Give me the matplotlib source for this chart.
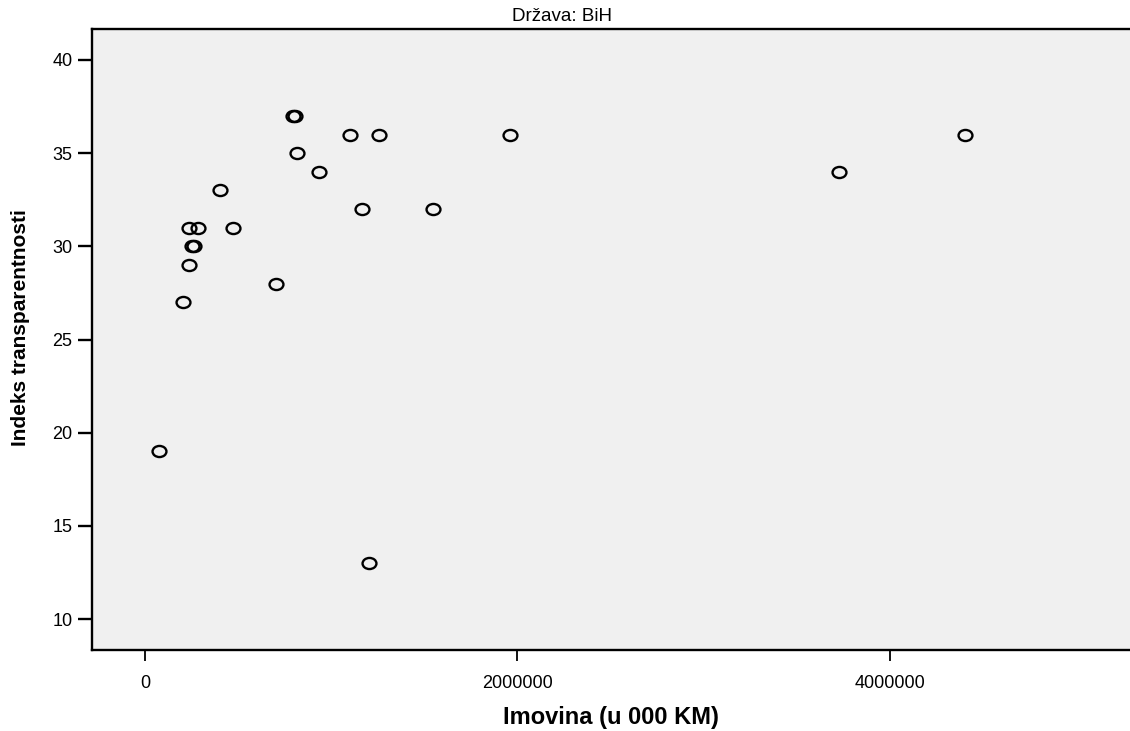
import matplotlib
matplotlib.use("Agg")
import matplotlib.pyplot as plt
from matplotlib.path import Path
from matplotlib.transforms import Affine2D

plt.rcParams['font.family'] = ['Liberation Sans', 'DejaVu Sans']

# Imovina (u 000 KM) vs. Indeks transparentnosti
imovina = [75000, 204000, 236000, 236000, 285000, 252000, 263000, 472000,
           403000, 703000, 795000, 805000, 816000, 934000, 1100000, 1256000,
           1165000, 1203000, 1546000, 1960000, 3726000, 4403000]
indeks = [19, 27, 29, 31, 31, 30, 30, 31,
          33, 28, 37, 37, 35, 34, 36, 36,
          32, 13, 32, 36, 34, 36]

x_ticks = [0, 2000000, 4000000]
y_ticks = [10, 15, 20, 25, 30, 35, 40]

# SPSS-style flattened circle marker
ellipse = Path.unit_circle().transformed(Affine2D().scale(1.0, 0.8))

fig = plt.figure(figsize=(11.3, 7.31), dpi=100)
ax = fig.add_axes([0.0814, 0.1108, 0.9186, 0.8495])
ax.set_facecolor('#f0f0f0')

ax.plot(imovina, indeks, linestyle='none', marker=ellipse, markersize=10,
        markerfacecolor='none', markeredgecolor='black', markeredgewidth=1.7)

ax.set_xlim(-284600, 5288600)
ax.set_ylim(8.34, 41.66)
ax.set_xticks(x_ticks)
ax.set_xticklabels([str(v) for v in x_ticks])
ax.set_yticks(y_ticks)

for side in ['left', 'bottom', 'top']:
    ax.spines[side].set_linewidth(1.7)
ax.spines['right'].set_visible(False)

ax.tick_params(axis='y', direction='out', length=10, width=1.7, labelsize=13, pad=4)
ax.tick_params(axis='x', direction='out', length=8, width=1.3, labelsize=13, pad=10)

ax.set_xlabel('Imovina (u 000 KM)', fontsize=17, fontweight='bold', labelpad=10)
ax.set_ylabel('Indeks transparentnosti', fontsize=15, fontweight='bold')
ax.yaxis.set_label_coords(-0.0597, 0.52)

fig.text(0.497, 0.977, 'Država: BiH', fontsize=13.5, ha='center', va='center')

fig.savefig('out.png', dpi=100)
